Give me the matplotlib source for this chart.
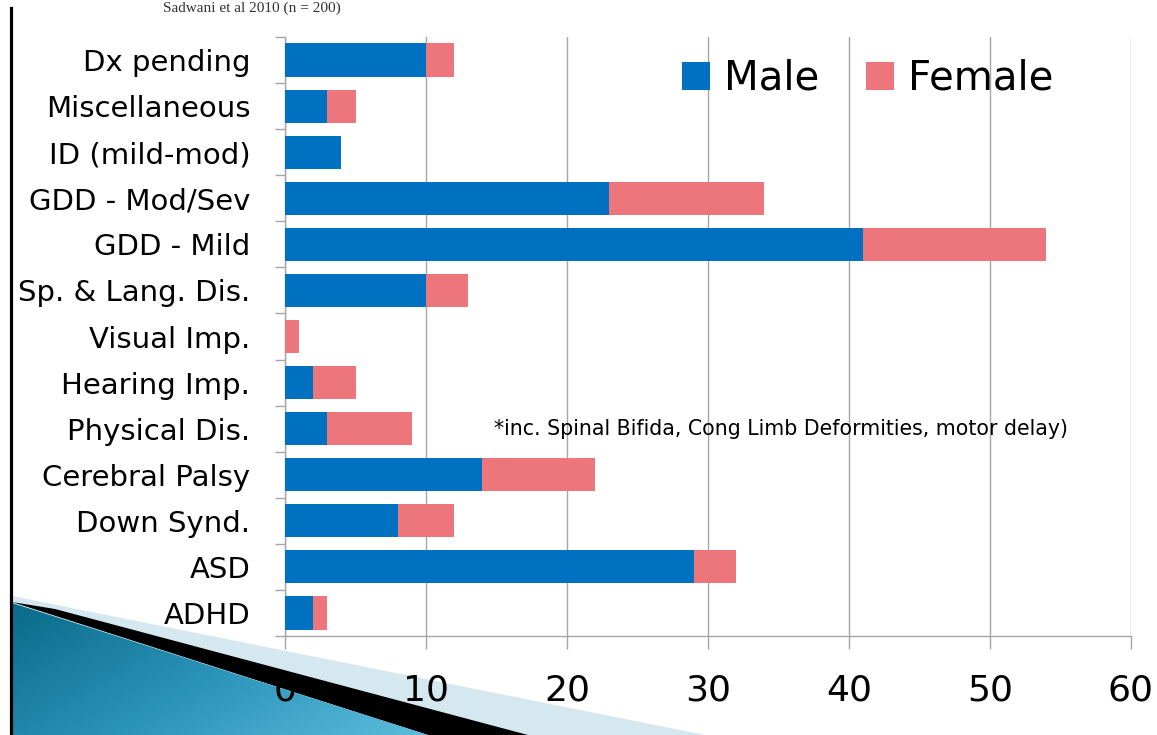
import numpy as np
import matplotlib
matplotlib.use('Agg')
import matplotlib.pyplot as plt
from matplotlib.patches import Polygon
from matplotlib.lines import Line2D
from matplotlib.colors import LinearSegmentedColormap

categories = ["Dx pending", "Miscellaneous", "ID (mild-mod)", "GDD - Mod/Sev",
              "GDD - Mild", "Sp. & Lang. Dis.", "Visual Imp.", "Hearing Imp.",
              "Physical Dis.", "Cerebral Palsy", "Down Synd.", "ASD", "ADHD"]
male = [10, 3, 4, 23, 41, 10, 0, 2, 3, 14, 8, 29, 2]
female = [2, 2, 0, 11, 13, 3, 1, 3, 6, 8, 4, 3, 1]
xticks = [0, 10, 20, 30, 40, 50, 60]
note = "*inc. Spinal Bifida, Cong Limb Deformities, motor delay)"
title = "Sadwani et al 2010 (n = 200)"

BLUE = '#0070C0'
PINK = '#EC767B'
GRID = '#a6a6a6'

W, H = 1157, 735
fig = plt.figure(figsize=(W / 100, H / 100), dpi=100)
fig.patch.set_facecolor('white')

# ---- slide decoration (pixel coordinates) ----
deco = fig.add_axes([0, 0, 1, 1], zorder=0)
deco.set_xlim(0, W)
deco.set_ylim(H, 0)
deco.axis('off')
deco.add_patch(Polygon([(12, 596), (705, 735), (12, 735)], closed=True,
                       fc='#d5e8f0', ec='none', zorder=1))
deco.add_patch(Polygon([(55, 609), (528, 735), (428, 735), (12, 602)], closed=True,
                       fc='black', ec='none', zorder=2))
teal = Polygon([(12, 603), (428, 735), (12, 735)], closed=True, fc='none', ec='none', zorder=3)
deco.add_patch(teal)
gx = np.linspace(0, 1, 200)
gy = np.linspace(0, 1, 80)
GX, GY = np.meshgrid(gx, gy)
grad = 0.65 * GX + 0.35 * GY
cmap = LinearSegmentedColormap.from_list('teal', ['#0a6a88', '#2a93b8', '#5cbcdc'])
img = deco.imshow(grad, extent=(12, 430, 735, 600), origin='upper', cmap=cmap,
                  aspect='auto', zorder=3, interpolation='bilinear')
img.set_clip_path(teal)
deco.add_line(Line2D([10.5, 10.5], [8, 735], color='black', lw=2.3, zorder=5))
fig.text(163 / W, 1 - 12 / H, title, fontsize=11, family='Liberation Serif',
         color='#333333', va='baseline', ha='left')

# ---- main chart ----
ax = fig.add_axes([285 / W, 1 - 636 / H, (1131 - 285) / W, (636 - 37) / H], zorder=1)
ax.set_facecolor('none')
y = np.arange(len(categories))
ax.barh(y, male, height=0.72, color=BLUE, label='Male', zorder=3)
ax.barh(y, female, left=male, height=0.72, color=PINK, label='Female', zorder=3)

ax.set_xlim(0, 60)
ax.set_ylim(len(categories) - 0.5, -0.5)
ax.set_xticks(xticks)
ax.set_xticklabels([str(t) for t in xticks])
ax.set_yticks(y)
ax.set_yticklabels(categories)
ax.set_yticks(np.arange(-0.5, len(categories)), minor=True)
ax.xaxis.grid(True, color=GRID, lw=1)
ax.set_axisbelow(True)

for s in ['top', 'right']:
    ax.spines[s].set_visible(False)
for s in ['left', 'bottom']:
    ax.spines[s].set_color(GRID)
    ax.spines[s].set_linewidth(1)

ax.tick_params(axis='y', which='major', length=0, pad=25, labelsize=21)
ax.tick_params(axis='y', which='minor', length=7, color=GRID, width=1)
ax.tick_params(axis='x', which='major', length=9, color=GRID, width=1,
               labelsize=26, pad=18)

ax.text(14.8, 8, note, fontsize=14.8, va='center', ha='left', zorder=4)

ax.legend(loc='center left', bbox_to_anchor=(682 / W, 1 - 79 / H),
          bbox_transform=fig.transFigure, ncol=2, frameon=False, fontsize=29,
          handlelength=0.7, handleheight=0.7, handletextpad=0.35,
          columnspacing=1.15, borderpad=0, borderaxespad=0)

fig.savefig('out.png', dpi=100)
